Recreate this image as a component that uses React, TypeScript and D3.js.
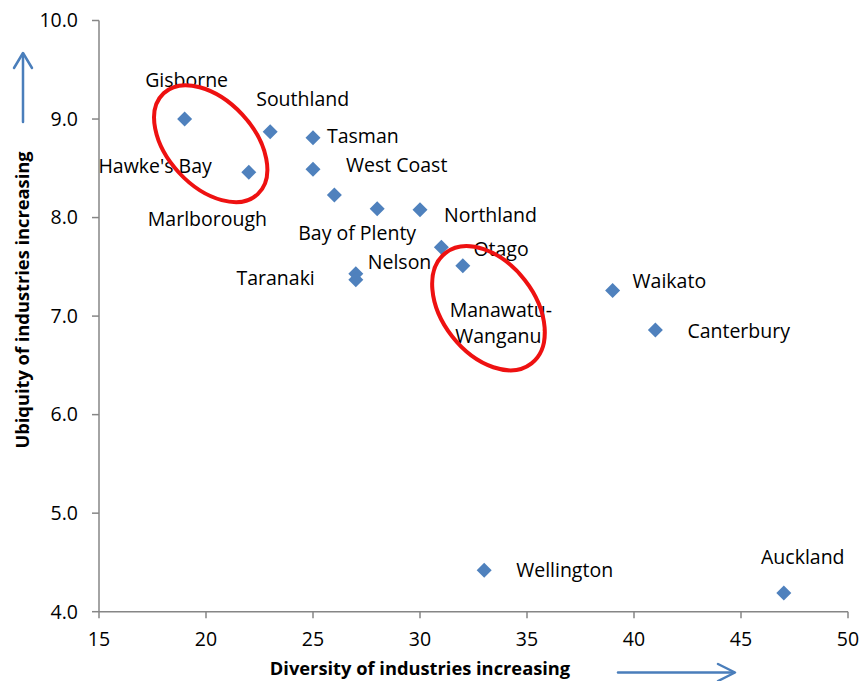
import React from "react";
import * as d3 from "d3";

const regions = [
  "Gisborne", "Southland", "Tasman", "Hawke's Bay", "West Coast", "Marlborough",
  "Bay of Plenty", "Northland", "Otago", "Manawatu-Wanganui", "Nelson", "Taranaki",
  "Waikato", "Canterbury", "Wellington", "Auckland",
];
const diversity = [19, 23, 25, 22, 25, 26, 28, 30, 31, 32, 27, 27, 39, 41, 33, 47];
const ubiquity = [9.0, 8.87, 8.81, 8.46, 8.49, 8.23, 8.09, 8.08, 7.7, 7.51, 7.43, 7.37, 7.26, 6.86, 4.42, 4.19];

const xTicks = [15, 20, 25, 30, 35, 40, 45, 50];
const yTicks = [4, 5, 6, 7, 8, 9, 10];

const xTitle = "Diversity of industries increasing";
const yTitle = "Ubiquity of industries increasing";

// label layout: [anchor, dx, dy] in pixels relative to the marker
const labelLayout: [string, number, number][] = [
  ["middle", 2, -32],
  ["start", -14, -26],
  ["start", 14, 5],
  ["end", -37, 1],
  ["start", 33, 3],
  ["middle", -127, 31],
  ["middle", -20, 31],
  ["start", 24, 12],
  ["start", 32, 9],
  ["middle", 38, 51],
  ["start", 12, -5],
  ["end", -41, 5],
  ["start", 20, -2],
  ["start", 32, 8],
  ["start", 32, 7],
  ["middle", 19, -29],
];

// highlight ellipses: centre in data units, radii & rotation in px/deg
const highlights = [
  { cx: 20.22, cy: 8.75, rx: 69, ry: 43, rot: 47 },
  { cx: 33.2, cy: 7.08, rx: 70, ry: 46, rot: 52 },
];

const W = 862;
const H = 681;
const AXIS = "#868686";
const BLUE = "#4F81BD";
const ARROW = "#4A7EBB";
const FONT = "'Open Sans', 'DejaVu Sans', sans-serif";
const FS = 19.5;

export default function App() {
  const x = d3.scaleLinear().domain([15, 50]).range([99, 848]);
  const y = d3.scaleLinear().domain([4, 10]).range([611.7, 20.5]);
  const [x0, x1] = x.range();
  const [y0, y1] = y.range();
  const d = 7.5;
  const diamond = `M0,${-d}L${d},0L0,${d}L${-d},0Z`;

  return (
    <svg
      width={W}
      height={H}
      style={{ position: "absolute", left: 0, top: 0, background: "#fff" }}
      fontFamily={FONT}
    >
      {/* axes */}
      <line x1={x0} x2={x0} y1={y1} y2={y0} stroke={AXIS} strokeWidth={1.5} />
      <line x1={x0} x2={x1} y1={y0} y2={y0} stroke={AXIS} strokeWidth={1.5} />
      {yTicks.map((t) => (
        <g key={"y" + t}>
          <line x1={x0 - 7} x2={x0} y1={y(t)} y2={y(t)} stroke={AXIS} strokeWidth={1.5} />
          <text x={78} y={y(t)} dy="0.35em" textAnchor="end" fontSize={FS} fill="#000">
            {t.toFixed(1)}
          </text>
        </g>
      ))}
      {xTicks.map((t) => (
        <g key={"x" + t}>
          <line x1={x(t)} x2={x(t)} y1={y0} y2={y0 + 6.5} stroke={AXIS} strokeWidth={1.5} />
          <text x={x(t)} y={646} textAnchor="middle" fontSize={FS} fill="#000">
            {t}
          </text>
        </g>
      ))}

      {/* axis titles */}
      <text x={420} y={675} textAnchor="middle" fontSize={18.3} fontWeight="bold" fill="#000">
        {xTitle}
      </text>
      <text
        transform={`translate(29,300) rotate(-90)`}
        textAnchor="middle"
        fontSize={18.3}
        fontWeight="bold"
        fill="#000"
      >
        {yTitle}
      </text>

      {/* arrows */}
      <g stroke={ARROW} strokeWidth={2.5} fill="none" strokeLinecap="round" strokeLinejoin="round">
        <line x1={23} x2={23} y1={122} y2={54} />
        <polyline points="14,68 23,53 32,68" />
        <line x1={618} x2={734} y1={672.5} y2={672.5} />
        <polyline points="718,664 735,672.5 718,681" />
      </g>

      {/* markers */}
      {regions.map((r, i) => (
        <path
          key={"m" + r}
          d={diamond}
          transform={`translate(${x(diversity[i])},${y(ubiquity[i])})`}
          fill={BLUE}
        />
      ))}

      {/* labels */}
      {regions.map((r, i) => {
        const [anchor, dx, dy] = labelLayout[i];
        const px = x(diversity[i]) + dx;
        const py = y(ubiquity[i]) + dy;
        if (r.includes("-")) {
          const parts = r.split("-");
          return (
            <text key={"l" + r} x={px} y={py} textAnchor={anchor} fontSize={FS} fill="#000">
              <tspan x={px}>{parts[0] + "-"}</tspan>
              <tspan x={px} dy={26}>{parts[1]}</tspan>
            </text>
          );
        }
        return (
          <text key={"l" + r} x={px} y={py} textAnchor={anchor} fontSize={FS} fill="#000">
            {r}
          </text>
        );
      })}

      {/* highlight ellipses */}
      {highlights.map((h, i) => (
        <ellipse
          key={"e" + i}
          cx={0}
          cy={0}
          rx={h.rx}
          ry={h.ry}
          transform={`translate(${x(h.cx)},${y(h.cy)}) rotate(${h.rot})`}
          fill="none"
          stroke="#EE1111"
          strokeWidth={4}
        />
      ))}
    </svg>
  );
}
